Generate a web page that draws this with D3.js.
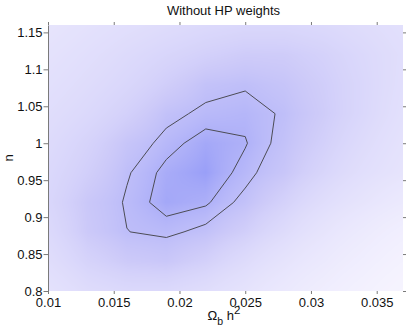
<!DOCTYPE html>
<html>
<head>
<meta charset="utf-8">
<script src="https://cdn.jsdelivr.net/npm/d3@7"></script>
<style>
  html, body { margin: 0; padding: 0; background: #ffffff; }
  svg { display: block; }
  text { font-family: "Liberation Sans", Arial, Helvetica, sans-serif; }
</style>
</head>
<body>
<svg id="chart" width="409" height="329"></svg>
<script>
// ---------------- data ----------------
const titleText = "Without HP weights";
// grid of the likelihood surface
const xGrid = [0.010, 0.013, 0.016, 0.019, 0.022, 0.025, 0.028, 0.031, 0.034, 0.037];
const yGrid = [0.80, 0.84, 0.88, 0.92, 0.96, 1.00, 1.04, 1.08, 1.12, 1.16];
// delta chi-square on the grid, one row per yGrid value (bottom to top), columns follow xGrid
const chi2Row080 = [31.1, 22.5, 18.9, 18.9, 23.9, 33.3, 48.6, 68.4, 93.6, 124.2];
const chi2Row084 = [24.3, 14.4, 9.36, 7.99, 12.6, 21.6, 34.2, 50.4, 72.0, 99.0];
const chi2Row088 = [19.8, 9.0, 4.68, 3.82, 5.58, 11.52, 21.6, 36.0, 54.0, 75.6];
const chi2Row092 = [17.1, 8.28, 4.14, 0.94, 1.84, 5.76, 13.5, 24.3, 36.0, 50.4];
const chi2Row096 = [18.7, 11.7, 4.97, 1.42, 0.14, 3.38, 7.65, 16.2, 26.1, 35.1];
const chi2Row100 = [21.2, 14.4, 7.09, 3.38, 0.98, 2.08, 5.98, 12.6, 21.6, 31.5];
const chi2Row104 = [24.3, 18.9, 12.6, 5.78, 3.71, 3.06, 5.11, 10.4, 18.0, 27.9];
const chi2Row108 = [27.9, 22.5, 17.1, 11.2, 6.10, 5.08, 7.02, 11.3, 17.6, 26.1];
const chi2Row112 = [31.5, 26.1, 20.7, 16.2, 12.6, 10.1, 10.4, 13.5, 18.9, 25.2];
const chi2Row116 = [36.0, 30.6, 26.1, 22.5, 19.4, 17.6, 17.6, 19.4, 23.0, 27.7];
const chi2Rows = [chi2Row080, chi2Row084, chi2Row088, chi2Row092, chi2Row096,
                  chi2Row100, chi2Row104, chi2Row108, chi2Row112, chi2Row116];
// confidence contour levels (delta chi-square)
const contourLevels = [2.30, 4.61];
// axes
const xDomain = [0.01, 0.037];
const yDomain = [0.8, 1.16];
const xTicks = [0.01, 0.015, 0.02, 0.025, 0.03, 0.035];
const xTickLabels = ["0.01", "0.015", "0.02", "0.025", "0.03", "0.035"];
const yTicks = [0.8, 0.85, 0.9, 0.95, 1.0, 1.05, 1.1, 1.15];
const yTickLabels = ["0.8", "0.85", "0.9", "0.95", "1", "1.05", "1.1", "1.15"];
// colour map
const colorStops = ["#faf8ff", "#cdcaf9", "#979df8"];
const colorStopPos = [0, 0.45, 1];
const likeScale = 3.555;   // width of the likelihood tail used for shading
const likeFloor = 0.13;    // likelihood mapped to the lightest colour

// ---------------- layout ----------------
const plot = { left: 48, right: 403, top: 25, bottom: 291 };
const svg = d3.select("#chart");
const x = d3.scaleLinear().domain(xDomain).range([plot.left, plot.right]);
const y = d3.scaleLinear().domain(yDomain).range([plot.bottom, plot.top]);

const nx = xGrid.length, ny = yGrid.length;
const gx = d3.scaleLinear().domain([xGrid[0], xGrid[nx - 1]]).range([0, nx - 1]);
const gy = d3.scaleLinear().domain([yGrid[0], yGrid[ny - 1]]).range([0, ny - 1]);

function chi2At(xv, yv) {
  let fi = Math.max(0, Math.min(nx - 1, gx(xv)));
  let fj = Math.max(0, Math.min(ny - 1, gy(yv)));
  let i0 = Math.min(nx - 2, Math.floor(fi)), j0 = Math.min(ny - 2, Math.floor(fj));
  let tx = fi - i0, ty = fj - j0;
  const a = chi2Rows[j0][i0], b = chi2Rows[j0][i0 + 1];
  const c = chi2Rows[j0 + 1][i0], d = chi2Rows[j0 + 1][i0 + 1];
  return (a * (1 - tx) + b * tx) * (1 - ty) + (c * (1 - tx) + d * tx) * ty;
}

const colorScale = d3.scaleLinear().domain(colorStopPos).range(colorStops)
  .interpolate(d3.interpolateRgb).clamp(true);

// ---------------- shaded surface ----------------
const W = plot.right - plot.left, H = plot.bottom - plot.top;
const canvas = document.createElement("canvas");
canvas.width = W; canvas.height = H;
const ctx = canvas.getContext("2d");
const img = ctx.createImageData(W, H);
const lut = d3.range(256).map(k => d3.rgb(colorScale(k / 255)));
for (let py = 0; py < H; py++) {
  const yv = y.invert(plot.top + py + 0.5);
  for (let px = 0; px < W; px++) {
    const xv = x.invert(plot.left + px + 0.5);
    const D = chi2At(xv, yv);
    const L = Math.pow(1 + D / likeScale, -0.5);
    let t = (L - likeFloor) / (1 - likeFloor);
    t = Math.max(0, Math.min(1, t));
    const c = lut[Math.round(t * 255)];
    const o = (py * W + px) * 4;
    img.data[o] = c.r; img.data[o + 1] = c.g; img.data[o + 2] = c.b; img.data[o + 3] = 255;
  }
}
ctx.putImageData(img, 0, 0);
svg.append("image")
  .attr("x", plot.left).attr("y", plot.top)
  .attr("width", W).attr("height", H)
  .attr("preserveAspectRatio", "none")
  .attr("href", canvas.toDataURL());

// ---------------- contours ----------------
const values = [];
for (let j = 0; j < ny; j++) for (let i = 0; i < nx; i++) values.push(-chi2Rows[j][i]);
const contours = d3.contours().size([nx, ny])
  .thresholds(contourLevels.map(v => -v))(values);
const cgx = d3.scaleLinear().domain([0.5, nx - 0.5]).range([xGrid[0], xGrid[nx - 1]]);
const cgy = d3.scaleLinear().domain([0.5, ny - 0.5]).range([yGrid[0], yGrid[ny - 1]]);
const proj = d3.geoTransform({
  point: function (px, py) { this.stream.point(x(cgx(px)), y(cgy(py))); }
});
svg.append("g").selectAll("path").data(contours).join("path")
  .attr("d", d3.geoPath(proj))
  .attr("fill", "none")
  .attr("stroke", "#4c4c55")
  .attr("stroke-width", 1)
  .attr("stroke-linejoin", "round");

// ---------------- axes ----------------
const tickColor = "#7a7a7a";
const fontSize = 13;

const gLeft = svg.append("g").attr("transform", `translate(${plot.left},0)`)
  .call(d3.axisLeft(y).tickValues(yTicks).tickFormat((d, i) => yTickLabels[i])
    .tickSize(4.5).tickSizeOuter(0).tickPadding(1));
const gBottom = svg.append("g").attr("transform", `translate(0,${plot.bottom})`)
  .call(d3.axisBottom(x).tickValues(xTicks).tickFormat((d, i) => xTickLabels[i])
    .tickSize(3).tickSizeOuter(0).tickPadding(3.5));
const gTop = svg.append("g").attr("transform", `translate(0,${plot.top})`)
  .call(d3.axisTop(x).tickValues(xTicks).tickFormat("").tickSize(3).tickSizeOuter(0));
const gRight = svg.append("g").attr("transform", `translate(${plot.right},0)`)
  .call(d3.axisRight(y).tickValues(yTicks).tickFormat("").tickSize(3).tickSizeOuter(0));

[gLeft, gBottom, gTop, gRight].forEach(g => {
  g.selectAll(".tick line").attr("stroke", tickColor);
  g.selectAll("text").attr("fill", "#111").attr("font-size", fontSize)
    .attr("font-family", '"Liberation Sans", Arial, sans-serif');
  g.attr("font-family", null);
});
gLeft.select(".domain").attr("stroke", tickColor);
gBottom.select(".domain").remove();
gTop.select(".domain").remove();
gRight.select(".domain").remove();

// ---------------- titles ----------------
svg.append("text")
  .attr("x", 223.5).attr("y", 15)
  .attr("text-anchor", "middle")
  .attr("font-size", fontSize).attr("fill", "#111")
  .text(titleText);

const xl = svg.append("text")
  .attr("x", 224).attr("y", 320)
  .attr("text-anchor", "middle")
  .attr("font-size", fontSize).attr("fill", "#111");
xl.append("tspan").text("Ω");
xl.append("tspan").attr("font-size", 10.5).attr("dy", 5).text("b");
xl.append("tspan").attr("dy", -5).text(" h");
xl.append("tspan").attr("font-size", 11.5).attr("dy", -6).text("2");

svg.append("text")
  .attr("transform", `translate(13,158) rotate(-90)`)
  .attr("text-anchor", "middle")
  .attr("font-size", fontSize).attr("fill", "#111")
  .text("n");
</script>
</body>
</html>
